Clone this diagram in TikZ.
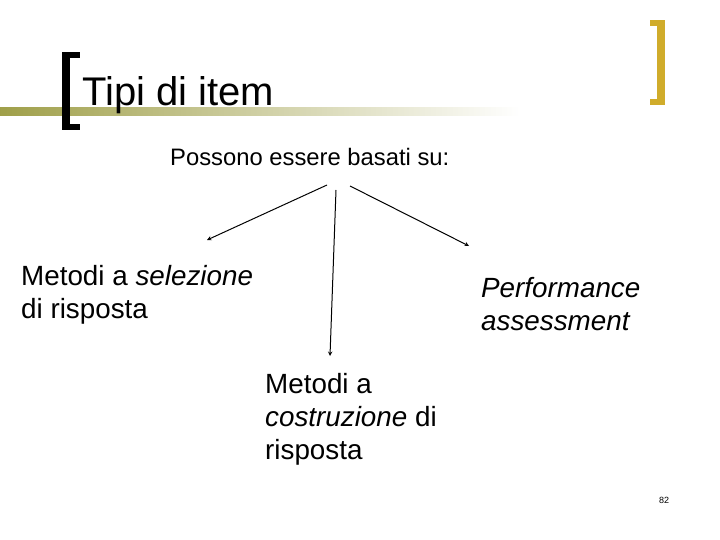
\documentclass[tikz,border=0pt]{standalone}
\usepackage{fontspec}
\setmainfont{Liberation Sans}
\begin{document}
\begin{tikzpicture}[x=1pt,y=-1pt,
  lbl/.style={anchor=north west,align=left,inner sep=0pt,font=\fontsize{27.8}{33}\selectfont},
  arr/.style={-stealth,line width=1pt}]
\useasboundingbox (0,0) rectangle (720,540);
\shade[left color=olive!45!gray!75,right color=white] (0,108) rectangle (520,116);
\fill[black] (62,52) rectangle (70,130);
\fill[black] (62,52) rectangle (80,58);
\fill[black] (62,124) rectangle (80,130);
\fill[yellow!60!orange!80!black] (657,20) rectangle (665,105);
\fill[yellow!60!orange!80!black] (650,20) rectangle (665,26);
\fill[yellow!60!orange!80!black] (650,99) rectangle (665,105);
\node[anchor=base west,inner sep=0pt,font=\fontsize{40}{44}\selectfont] (t) at (82,106) {Tipi di item};
\node[anchor=base west,inner sep=0pt,font=\fontsize{23.8}{26}\selectfont] (p) at (170,166) {Possono essere basati su:};
\node[lbl] (a) at (21,265) {Metodi a \textit{selezione}\\di risposta};
\node[lbl] (b) at (481,277) {\textit{Performance}\\\textit{assessment}};
\node[lbl] (c) at (265,373) {Metodi a\\\textit{costruzione} di\\risposta};
\coordinate (s1) at (327,185); \coordinate (e1) at (207,240);
\coordinate (s2) at (336,190); \coordinate (e2) at (330,356);
\coordinate (s3) at (350,186); \coordinate (e3) at (469,246);
\draw[arr] (s1) -- (e1);
\draw[arr] (s2) -- (e2);
\draw[arr] (s3) -- (e3);
\node[anchor=base west,inner sep=0pt,font=\fontsize{9}{10}\selectfont] (n) at (659,503) {82};
\end{tikzpicture}
\end{document}
